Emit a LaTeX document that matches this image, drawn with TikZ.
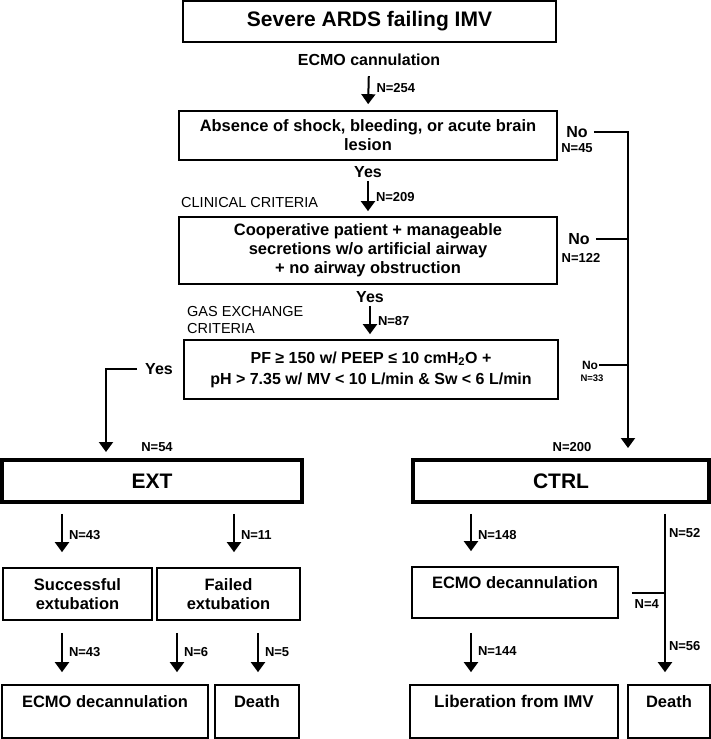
\documentclass[tikz,border=0pt]{standalone}
\usepackage{fontspec}
\setmainfont{Liberation Sans}
\usetikzlibrary{arrows.meta}

\begin{document}
\begin{tikzpicture}[x=1pt, y=-1pt,
  box/.style={draw, line width=1.7pt, inner sep=0pt, align=center,
    font=\fontsize{16.5}{19}\selectfont\bfseries},
  bigbox/.style={box, line width=3.5pt, font=\fontsize{21}{25}\selectfont\bfseries},
  toptext/.style={text depth=20pt},
  txt/.style={inner sep=0pt, font=\fontsize{16}{19}\selectfont\bfseries},
  crit/.style={inner sep=0pt, anchor=west, align=left, font=\fontsize{14.5}{17}\selectfont},
  nlbl/.style={inner sep=1pt, font=\fontsize{13}{15}\selectfont\bfseries},
  arr/.style={line width=2pt, -{Triangle[width=14pt,length=10pt]}},
  wire/.style={line width=2pt}
]
  \useasboundingbox (0,0) rectangle (711,739);

  % 上段
  \node[box, minimum width=373pt, minimum height=41pt,
    font=\fontsize{21}{25}\selectfont\bfseries] (ards) at (369.5,21.5) {Severe ARDS failing IMV};
  \node[txt] (cann) at (369,60) {ECMO cannulation};
  \node[box, minimum width=378pt, minimum height=49pt] (shock) at (368,135.5)
    {Absence of shock, bleeding, or acute brain\\lesion};
  \node[txt] (yesA) at (368,172) {Yes};
  \node[crit] (critA) at (181,203) {CLINICAL CRITERIA};
  \node[box, minimum width=378pt, minimum height=67pt] (coop) at (368,250.5)
    {Cooperative patient + manageable\\secretions w/o artificial airway\\+ no airway obstruction};
  \node[txt] (yesB) at (370,297) {Yes};
  \node[crit] (critB) at (187,320.5) {GAS EXCHANGE\\CRITERIA};
  \node[box, minimum width=374pt, minimum height=59pt,
    font=\fontsize{16}{21}\selectfont\bfseries] (gas) at (371,369.5)
    {PF ≥ 150 w/ PEEP ≤ 10 cmH\textsubscript{2}O +\\pH > 7.35 w/ MV < 10 L/min \& Sw < 6 L/min};

  % No の分岐
  \node[txt] (noA) at (577,132) {No};
  \node[nlbl] (nA) at (577,148) {N=45};
  \node[txt] (noB) at (579,239) {No};
  \node[nlbl] (nB) at (581,258) {N=122};
  \node[txt, font=\fontsize{12}{14}\selectfont\bfseries] (noC) at (590,365) {No};
  \node[nlbl, font=\fontsize{9.5}{11}\selectfont\bfseries] (nC) at (592,378) {N=33};
  \node[txt] (yesC) at (159,369) {Yes};
  \node[nlbl] (nExt) at (157,447) {N=54};
  \node[nlbl] (nCtrl) at (572,447) {N=200};

  % 群
  \node[bigbox, minimum width=300pt, minimum height=42pt] (ext) at (152,481) {EXT};
  \node[bigbox, minimum width=296pt, minimum height=42pt] (ctrl) at (561,481) {CTRL};

  % 下段
  \node[box, minimum width=149pt, minimum height=52pt] (succ) at (77.5,594) {Successful\\extubation};
  \node[box, minimum width=143pt, minimum height=52pt] (fail) at (228.5,594) {Failed\\extubation};
  \node[box, toptext, minimum width=206pt, minimum height=53pt] (decA) at (105,711.5) {ECMO decannulation};
  \node[box, toptext, minimum width=84pt, minimum height=53pt] (deadA) at (257,711.5) {Death};
  \node[box, toptext, minimum width=206pt, minimum height=51pt] (decB) at (515,592.5) {ECMO decannulation};
  \node[box, toptext, minimum width=208pt, minimum height=53pt,
    font=\fontsize{17}{20}\selectfont\bfseries] (libB) at (514,711.5) {Liberation from IMV};
  \node[box, toptext, minimum width=82pt, minimum height=53pt] (deadB) at (669,711.5) {Death};

  % 列の座標
  \coordinate (colA) at (62,0);
  \coordinate (colB) at (234,0);
  \coordinate (colC) at (177,0);
  \coordinate (colD) at (258,0);
  \coordinate (colE) at (471,0);
  \coordinate (colF) at (665,0);
  \coordinate (extin) at (106,452);
  \coordinate (ctrlin) at (628,448);

  % 上の矢印
  \draw[arr, shorten <=10pt, shorten >=6pt] (cann.south) -- (shock.north)
    node[nlbl, midway, right=6pt] (n254) {N=254};
  \draw[arr, shorten <=3pt, shorten >=5pt] (yesA.south) -- (coop.north)
    node[nlbl, midway, right=6pt] (n209) {N=209};
  \draw[arr, shorten <=3pt, shorten >=5pt] (yesB.south) -- (yesB.south |- gas.north)
    node[nlbl, midway, right=6pt] (n87) {N=87};

  % Yes / No の線
  \draw[arr] ([xshift=-8pt]yesC.west) -| (extin);
  \draw[arr] ([xshift=6pt]noA.east) -| (ctrlin);
  \draw[wire] ([xshift=6pt]noB.east) -- (noB.east -| ctrlin);
  \draw[wire] ([xshift=1pt]noC.east) -- (noC.east -| ctrlin);

  % EXT
  \draw[arr, shorten <=10pt, shorten >=15pt] (colA |- ext.south) -- (colA |- succ.north)
    node[nlbl, midway, right=5pt] (n43a) {N=43};
  \draw[arr, shorten <=10pt, shorten >=15pt] (colB |- ext.south) -- (colB |- fail.north)
    node[nlbl, midway, right=5pt] (n11) {N=11};
  \draw[arr, shorten <=12pt, shorten >=12pt] (colA |- succ.south) -- (colA |- decA.north)
    node[nlbl, midway, right=5pt] (n43b) {N=43};
  \draw[arr, shorten <=12pt, shorten >=12pt] (colC |- fail.south) -- (colC |- decA.north)
    node[nlbl, midway, right=5pt] (n6) {N=6};
  \draw[arr, shorten <=12pt, shorten >=12pt] (colD |- fail.south) -- (colD |- deadA.north)
    node[nlbl, midway, right=5pt] (n5) {N=5};

  % CTRL
  \draw[arr, shorten <=10pt, shorten >=15pt] (colE |- ctrl.south) -- (colE |- decB.north)
    node[nlbl, midway, right=5pt] (n148) {N=148};
  \draw[arr, shorten <=14pt, shorten >=12pt] (colE |- decB.south) -- (colE |- libB.north)
    node[nlbl, midway, right=5pt] (n144) {N=144};
  \draw[arr, shorten <=10pt, shorten >=12pt] (colF |- ctrl.south) -- (colF |- deadB.north)
    node[nlbl, pos=0.16, right=2pt] (n52) {N=52}
    node[nlbl, pos=0.79, right=2pt] (n56) {N=56};
  \draw[wire] ([xshift=13pt]decB.east) -- (decB.east -| colF)
    node[nlbl, pos=0.45, below=5pt] (n4) {N=4};
\end{tikzpicture}
\end{document}
